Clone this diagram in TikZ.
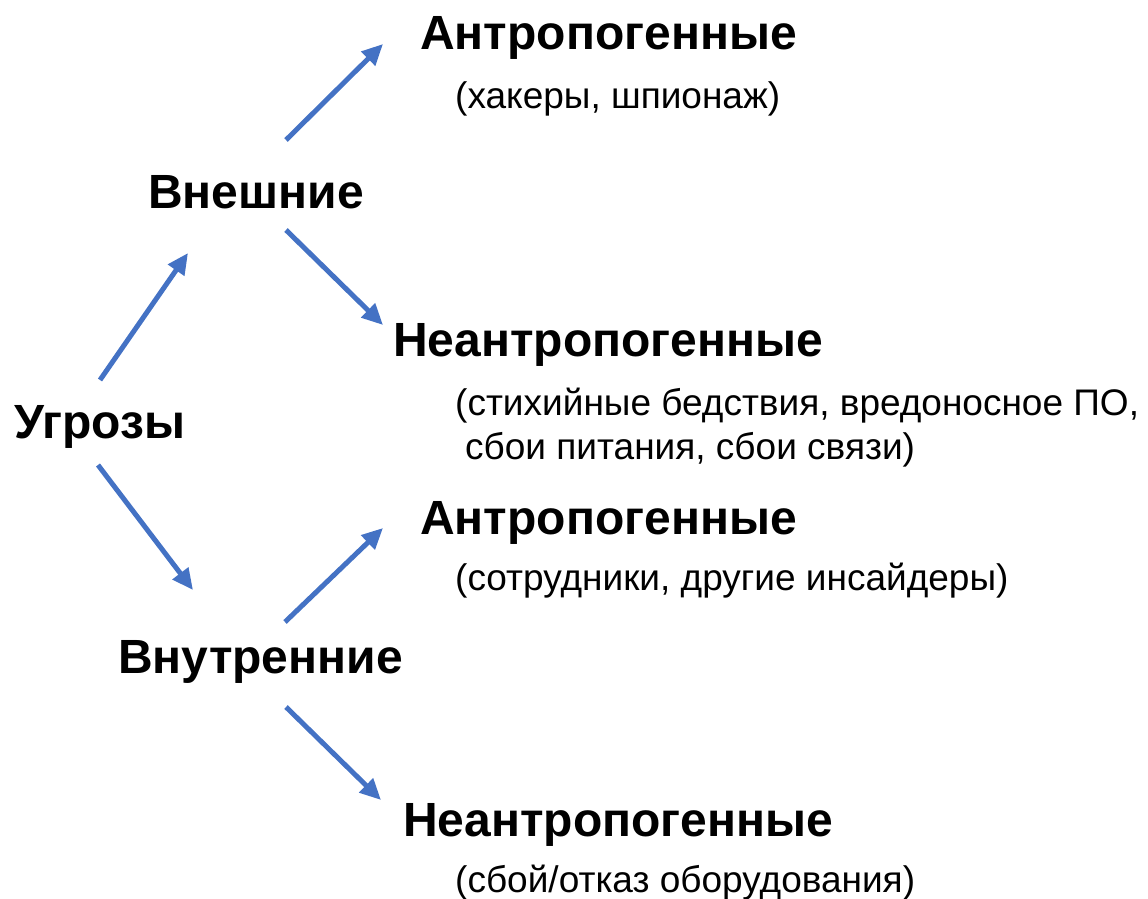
\documentclass[tikz,border=0pt]{standalone}
\usepackage{fontspec}
\setmainfont{Liberation Sans}
\usetikzlibrary{arrows.meta,calc}
\definecolor{arrblue}{RGB}{68,114,196}
\tikzset{
    head/.style = {anchor=base west, inner sep=0pt, font=\fontsize{48}{54}\selectfont\bfseries},
    note/.style = {anchor=base west, inner sep=0pt, align=left, font=\fontsize{37}{44}\selectfont},
    arr/.style  = {draw=arrblue, line width=5pt, -{Triangle[length=21pt,width=19pt]}}
}
\begin{document}
\begin{tikzpicture}[x=1pt, y=1pt]
    \useasboundingbox (0,0) rectangle (1148,-899);
    % root
    \node[head] (ugr) at (14,-438) {Угрозы};
    % first level
    \node[head] (vnesh) at (148,-208) {Внешние};
    \node[head] (vnutr) at (118,-673) {Внутренние};
    % second level
    \node[head] (antrA) at (420,-50) {Антропогенные};
    \node[note] (antrAn) at (455,-108) {(хакеры, шпионаж)};
    \node[head] (neantrA) at (393,-356) {Неантропогенные};
    \node[note] (neantrAn) at (455,-459) {(стихийные бедствия, вредоносное ПО,\\\hspace{10pt}сбои питания, сбои связи)};
    \node[head] (antrB) at (420,-534) {Антропогенные};
    \node[note] (antrBn) at (455,-590) {(сотрудники, другие инсайдеры)};
    \node[head] (neantrB) at (403,-836) {Неантропогенные};
    \node[note] (neantrBn) at (455,-892) {(сбой/отказ оборудования)};
    % arrows
    \draw[arr] ($(ugr.base west)+(86,58)$) -- ($(vnesh.base west)+(40,-45)$);
    \draw[arr] ($(ugr.base west)+(84,-27)$) -- ($(vnutr.base west)+(75,83)$);
    \draw[arr] ($(vnesh.base west)+(138,68)$) -- ($(antrA.base west)+(-37,6)$);
    \draw[arr] ($(vnesh.base west)+(138,-22)$) -- ($(neantrA.base west)+(-10,31)$);
    \draw[arr] ($(vnutr.base west)+(167,51)$) -- ($(antrB.base west)+(-37,6)$);
    \draw[arr] ($(vnutr.base west)+(168,-34)$) -- ($(neantrB.base west)+(-22,36)$);
\end{tikzpicture}
\end{document}
